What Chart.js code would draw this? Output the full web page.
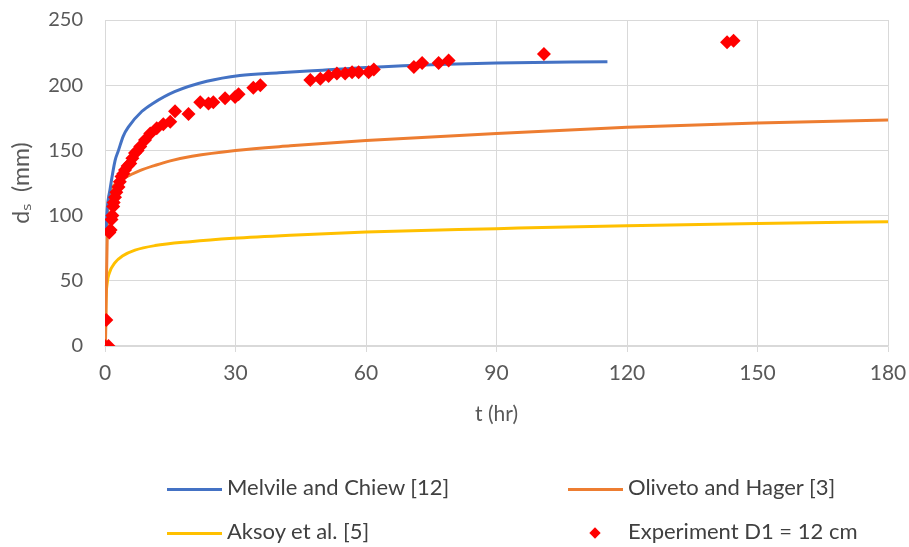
<!DOCTYPE html>
<html>
<head>
<meta charset="utf-8">
<script src="https://cdn.jsdelivr.net/npm/chart.js@4/dist/chart.umd.min.js"></script>
<style>
    body { margin: 0; background: #fff; }
    #wrap { position: relative; width: 909px; height: 547px; font-family: Lato, "Open Sans", sans-serif; color: #404040; }
    #chart { position: absolute; left: 0; top: 0; }
    .item { position: absolute; font-size: 22px; line-height: 26px; white-space: nowrap; }
    .line { display: inline-block; width: 55px; height: 3px; vertical-align: middle; margin-right: 5px; }
    .diamond { display: inline-block; width: 8px; height: 8px; background: #ff0000; transform: rotate(45deg); vertical-align: middle; margin: 0 29px 0 23px; }
</style>
</head>
<body>
<div id="wrap">
    <canvas id="chart" width="909" height="547"></canvas>
    <div class="item" style="left:167px; top:474px;"><span class="line" style="background:#4472c4"></span>Melvile and Chiew [12]</div>
    <div class="item" style="left:568px; top:474px;"><span class="line" style="background:#ed7d31"></span>Oliveto and Hager [3]</div>
    <div class="item" style="left:167px; top:518px;"><span class="line" style="background:#ffc000"></span>Aksoy et al. [5]</div>
    <div class="item" style="left:568px; top:518px;"><span class="diamond"></span>Experiment D1 = 12 cm</div>
</div>
<script>
// experiment D1 = 12 cm
const expT = [0, 0.8, 0.3, 1.0, 1.3, 1.5, 1.7, 1.9, 2.0, 2.3, 2.6, 3.1, 3.4, 3.8, 4.2, 4.6, 5.2, 5.8, 6.3, 6.9, 7.5, 8.1, 9.2, 10.4, 11.9, 13.4, 15, 16.1, 19.2, 21.9, 23.8, 24.9, 27.6, 29.9, 30.7, 34.1, 35.7, 47.2, 49.5, 51.4, 53.3, 55.2, 56.8, 58.3, 60.6, 61.8, 71, 72.9, 76.7, 79, 100.9, 143, 144.5];
const expD = [0, 0, 20, 87, 89, 97, 100, 107, 110, 114, 118, 122, 126, 130, 132, 135, 138, 140, 144, 148, 150, 153, 158, 163, 167, 170, 172, 180, 178, 187, 186, 187, 190, 191, 193, 198, 200, 204, 205, 207, 209, 209, 210, 210, 210, 212, 214, 217, 217, 219, 224, 233, 234];

// Melvile and Chiew [12]
const mcT = [0.2, 0.5, 1.15, 2.3, 3.1, 4.2, 5.4, 8.5, 11, 16, 23.4, 31, 40, 50, 60, 78.6, 90, 115.5];
const mcD = [85, 105, 120, 142, 150, 161, 168, 180, 186, 195, 203, 207.5, 209.5, 211.5, 213.5, 216, 217, 218];

// Oliveto and Hager [3]
const ohT = [0.1, 0.6, 1.2, 2.3, 4, 6, 8, 11.5, 15, 20, 30, 42.6, 60, 90, 120, 150, 180];
const ohD = [0, 100, 118, 124, 128, 131.5, 134.5, 138.5, 142, 145.5, 150, 153.5, 157.5, 163, 167.7, 171, 173.3];

// Aksoy et al. [5]
const akT = [0.1, 0.2, 0.5, 1, 2.3, 4, 6.9, 11.5, 19.6, 29.5, 42.6, 60, 90, 120, 150, 180];
const akD = [0, 30, 48, 56, 64, 69, 73.5, 77, 80, 82.6, 85, 87.5, 90, 92.3, 94, 95.3];

const xTicks = [0, 30, 60, 90, 120, 150, 180];
const yTicks = [0, 50, 100, 150, 200, 250];

const pts = (xs, ys) => xs.map((x, i) => ({ x: x, y: ys[i] }));

const fontFam = 'Lato, "Open Sans", sans-serif';
const grey = "#595959";
const gridCol = "#d9d9d9";

function curve(label, xs, ys, color, order) {
    return {
        label: label,
        data: pts(xs, ys),
        showLine: true,
        borderColor: color,
        backgroundColor: color,
        borderWidth: 3,
        pointRadius: 0,
        cubicInterpolationMode: "monotone",
        order: order
    };
}

new Chart(document.getElementById("chart"), {
    type: "scatter",
    data: {
        datasets: [
            {
                label: "Experiment D1 = 12 cm",
                data: pts(expT, expD),
                pointStyle: "rectRot",
                pointRadius: 7,
                backgroundColor: "#ff0000",
                borderColor: "#ff0000",
                borderWidth: 0,
                order: 0
            },
            curve("Melvile and Chiew [12]", mcT, mcD, "#4472c4", 1),
            curve("Oliveto and Hager [3]", ohT, ohD, "#ed7d31", 2),
            curve("Aksoy et al. [5]", akT, akD, "#ffc000", 3)
        ]
    },
    options: {
        responsive: false,
        animation: false,
        layout: { padding: { left: 7, top: 20, right: 21, bottom: 111 } },
        plugins: {
            legend: { display: false },
            tooltip: { enabled: false }
        },
        scales: {
            x: {
                type: "linear",
                min: 0,
                max: 180,
                afterBuildTicks: s => { s.ticks = xTicks.map(v => ({ value: v })); },
                afterFit: s => { s.height = 90; s.paddingLeft = 0; s.paddingRight = 0; },
                grid: { color: gridCol, lineWidth: 1, tickLength: 6, tickColor: gridCol },
                border: { color: gridCol, width: 1.5 },
                ticks: { color: grey, font: { family: fontFam, size: 21 }, padding: 9, maxRotation: 0 },
                title: { display: true, text: "t (hr)", color: grey, font: { family: fontFam, size: 21 }, padding: { top: 6, bottom: 9 } }
            },
            y: {
                min: 0,
                max: 250,
                afterBuildTicks: s => { s.ticks = yTicks.map(v => ({ value: v })); },
                afterFit: s => { s.width = 98; s.paddingTop = 0; s.paddingBottom = 0; },
                grid: { color: gridCol, lineWidth: 1, drawTicks: false },
                border: { color: gridCol, width: 1 },
                ticks: { color: grey, font: { family: fontFam, size: 20 }, padding: 22 },
                title: { display: true, text: "dₛ  (mm)", color: grey, font: { family: fontFam, size: 23 }, padding: { top: 1, bottom: 0 } }
            }
        }
    }
});
</script>
</body>
</html>
